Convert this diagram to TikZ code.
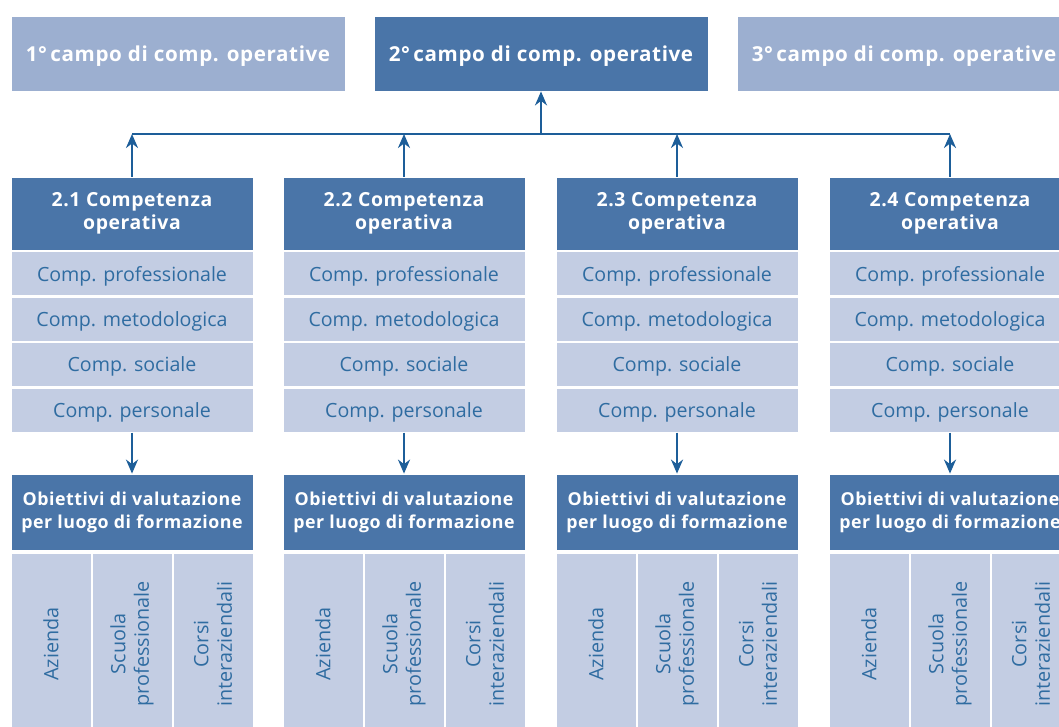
\documentclass[tikz,border=0pt]{standalone}
\usepackage{fontspec}
\setmainfont{Open Sans}
\newfontfamily\boldsp{Open Sans}[LetterSpace=3.0]
\usetikzlibrary{arrows.meta}
\definecolor{darkblue}{HTML}{4A75A8}
\definecolor{toplight}{HTML}{9CAFD0}
\definecolor{rowlight}{HTML}{C3CDE3}
\definecolor{txtblue}{HTML}{2F6CA1}
\definecolor{arrowc}{HTML}{1D5E99}
\tikzset{
  topbox/.style={fill=toplight, draw=white, line width=0.8pt, minimum width=334pt, minimum height=75pt, inner sep=0pt, text=white, text depth=0pt, font=\boldsp\bfseries\fontsize{20.6}{24}\selectfont},
  topdark/.style={topbox, fill=darkblue},
  hdr/.style={fill=darkblue, draw=white, line width=0.8pt, minimum width=242pt, minimum height=73pt, inner sep=0pt, text=white, align=center, font=\boldsp\bfseries\fontsize{19.4}{23}\selectfont},
  objbox/.style={hdr, minimum height=76pt, font=\boldsp\bfseries\fontsize{17.8}{23}\selectfont},
  rowbox/.style={fill=rowlight, draw=white, line width=1pt, minimum width=242pt, minimum height=44pt, inner sep=0pt, text=txtblue, text depth=0pt, font=\fontsize{19.6}{23}\selectfont},
  subbox/.style={fill=rowlight, draw=white, line width=1pt, rotate=90, minimum width=182pt, minimum height=80pt, inner sep=0pt, text=txtblue, align=center, font=\fontsize{19.8}{23.5}\selectfont},
  conn/.style={draw=arrowc, line width=2.4pt},
  arr/.style={conn, -{Stealth[length=14pt,width=12pt]}}
}
\begin{document}
\begin{tikzpicture}[x=1pt,y=-1pt]
\useasboundingbox (0,0) rectangle (1059,726);
\clip (0,0) rectangle (1059,726);
\node[topbox]  (t1) at (178,53.5) {1°\,campo di comp. operative};
\node[topdark] (t2) at (541,53.5) {2°\,campo di comp. operative};
\node[topbox]  (t3) at (904,53.5) {3°\,campo di comp. operative};
\foreach \i/\c in {1/132,2/404,3/677,4/950}{
  \node[hdr] (h\i) at (\c,213.5) {2.\i\ Competenza\\operativa};
  \node[rowbox] (r\i1) at (\c,273.5) {Comp. professionale};
  \node[rowbox] (r\i2) at (\c,319) {Comp. metodologica};
  \node[rowbox] (r\i3) at (\c,364.5) {Comp. sociale};
  \node[rowbox] (r\i4) at (\c,410) {Comp. personale};
  \node[objbox] (o\i) at (\c,512) {Obiettivi di valutazione\\per luogo di formazione};
  \node[subbox] (s\i1) at (\c-81,644) {Azienda};
  \node[subbox] (s\i2) at (\c,644) {Scuola\\professionale};
  \node[subbox] (s\i3) at (\c+81,644) {Corsi\\interaziendali};
  \coordinate (j\i) at (\c,134);
  \draw[arr] (h\i.north) -- (j\i);
  \draw[arr] (r\i4.south) -- (o\i.north);
}
\coordinate (jm) at (541,134);
\draw[conn] (j1) -- (j4);
\draw[arr] (jm) -- (t2.south);
\end{tikzpicture}
\end{document}
